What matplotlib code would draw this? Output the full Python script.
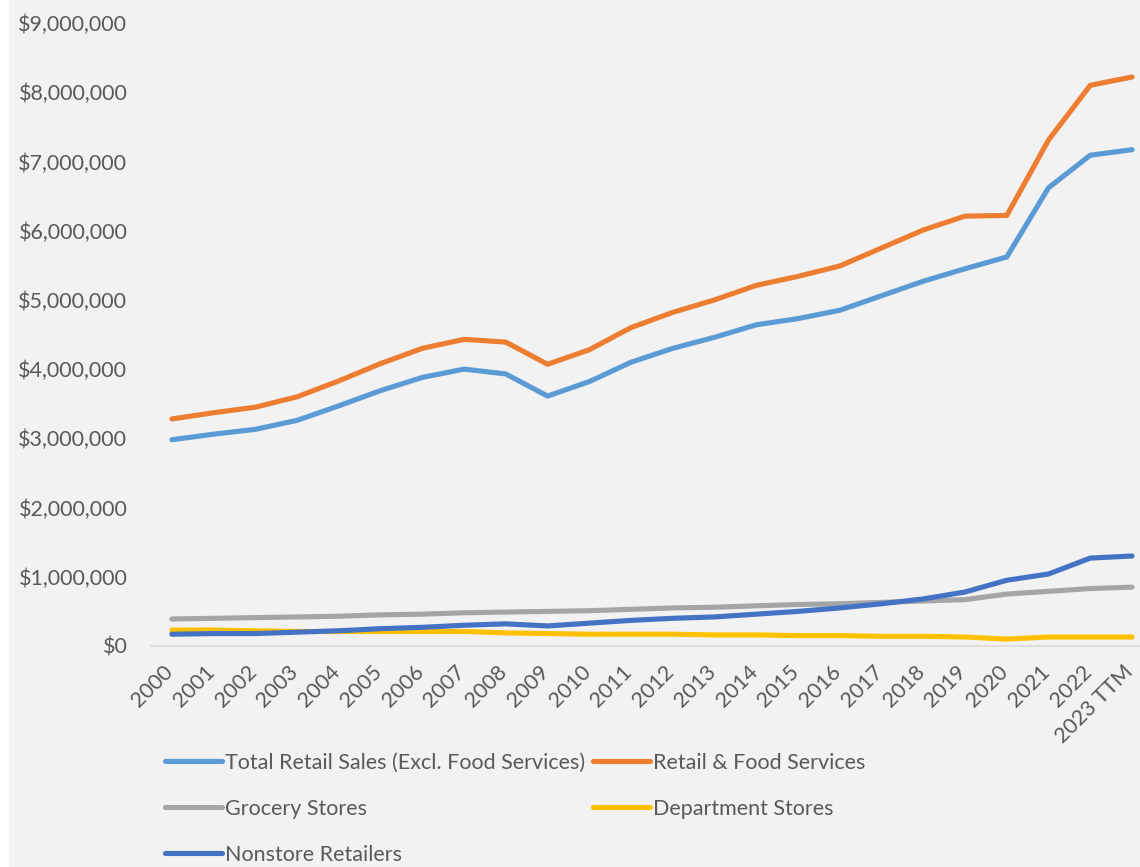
import matplotlib
matplotlib.use("Agg")
import matplotlib.pyplot as plt
from matplotlib.patches import Rectangle
from matplotlib.ticker import FuncFormatter
from matplotlib.transforms import ScaledTranslation

years = ["2000", "2001", "2002", "2003", "2004", "2005", "2006", "2007", "2008", "2009",
         "2010", "2011", "2012", "2013", "2014", "2015", "2016", "2017", "2018", "2019",
         "2020", "2021", "2022", "2023 TTM"]

total_retail = [2.98, 3.06, 3.13, 3.26, 3.47, 3.69, 3.88, 4.00, 3.93, 3.61,
                3.82, 4.10, 4.30, 4.46, 4.64, 4.73, 4.85, 5.06, 5.27, 5.45,
                5.62, 6.62, 7.09, 7.17]
retail_food = [3.28, 3.37, 3.45, 3.60, 3.83, 4.08, 4.30, 4.43, 4.39, 4.07,
               4.28, 4.60, 4.82, 5.00, 5.21, 5.34, 5.49, 5.75, 6.01, 6.21,
               6.22, 7.31, 8.10, 8.22]
grocery = [0.39, 0.40, 0.41, 0.42, 0.43, 0.45, 0.46, 0.48, 0.49, 0.50,
           0.51, 0.53, 0.55, 0.56, 0.58, 0.60, 0.61, 0.63, 0.65, 0.67,
           0.75, 0.79, 0.83, 0.85]
department = [0.23, 0.23, 0.22, 0.21, 0.21, 0.21, 0.21, 0.21, 0.19, 0.18,
              0.17, 0.17, 0.17, 0.16, 0.16, 0.15, 0.15, 0.14, 0.14, 0.13,
              0.10, 0.13, 0.13, 0.13]
nonstore = [0.17, 0.18, 0.18, 0.20, 0.22, 0.25, 0.27, 0.30, 0.32, 0.29,
            0.33, 0.37, 0.40, 0.42, 0.46, 0.50, 0.55, 0.61, 0.68, 0.78,
            0.95, 1.04, 1.27, 1.30]

series = [
    ("Total Retail Sales (Excl. Food Services)", total_retail, "#5B9BD5"),
    ("Retail & Food Services", retail_food, "#ED7D31"),
    ("Grocery Stores", grocery, "#A5A5A5"),
    ("Department Stores", department, "#FFC000"),
    ("Nonstore Retailers", nonstore, "#4472C4"),
]

plt.rcParams['font.family'] = ['Lato', 'DejaVu Sans']
txt = "#595959"
FS = 15.5
W, H = 1140, 867
fig = plt.figure(figsize=(W / 100, H / 100), dpi=100, facecolor="white")
fig.patches.append(Rectangle((9 / W, 0), 1, 1, transform=fig.transFigure,
                             facecolor="#F2F2F2", edgecolor="none", zorder=-10))

left = 151 / W
bottom = 1 - 646 / H
top = 1 - 23 / H
ax = fig.add_axes([left, bottom, 1 - left, top - bottom])
ax.set_facecolor("none")

x = list(range(len(years)))
handles = {}
for name, vals, col in series:
    ln, = ax.plot(x, [v * 1e6 for v in vals], color=col, lw=3.7,
                  solid_capstyle="round", solid_joinstyle="round", label=name)
    handles[name] = ln

ax.set_xlim(-0.5, (W - 172) / 41.74)
ax.set_ylim(0, 9e6)
ax.set_yticks([i * 1e6 for i in range(10)])
ax.yaxis.set_major_formatter(FuncFormatter(lambda v, p: "${:,.0f}".format(v)))
ax.set_xticks(x)
ax.set_xticklabels(years, rotation=45, ha="right", va="top", rotation_mode="anchor")
ax.tick_params(axis="both", length=0, colors=txt, labelsize=FS)
ax.tick_params(axis="y", pad=17)
ax.tick_params(axis="x", pad=11)
shift = ScaledTranslation(-9 / 100, 0, fig.dpi_scale_trans)
for lab in ax.get_xticklabels():
    lab.set_transform(lab.get_transform() + shift)
for s in ["top", "right", "left"]:
    ax.spines[s].set_visible(False)
ax.spines["bottom"].set_color("#D9D9D9")
ax.spines["bottom"].set_linewidth(1.2)

order = ["Total Retail Sales (Excl. Food Services)", "Grocery Stores", "Nonstore Retailers",
         "Retail & Food Services", "Department Stores"]
leg = fig.legend([handles[n] for n in order], order, ncol=2, frameon=False,
                 loc="upper left", bbox_to_anchor=(165 / W, 1 - 753 / H),
                 borderaxespad=0, borderpad=0,
                 fontsize=FS, handlelength=2.65, handletextpad=0.14,
                 columnspacing=0.37, labelspacing=1.2, labelcolor=txt)
for l in leg.get_lines():
    l.set_linewidth(3.7)

fig.savefig("out.png", dpi=100, facecolor="white")
